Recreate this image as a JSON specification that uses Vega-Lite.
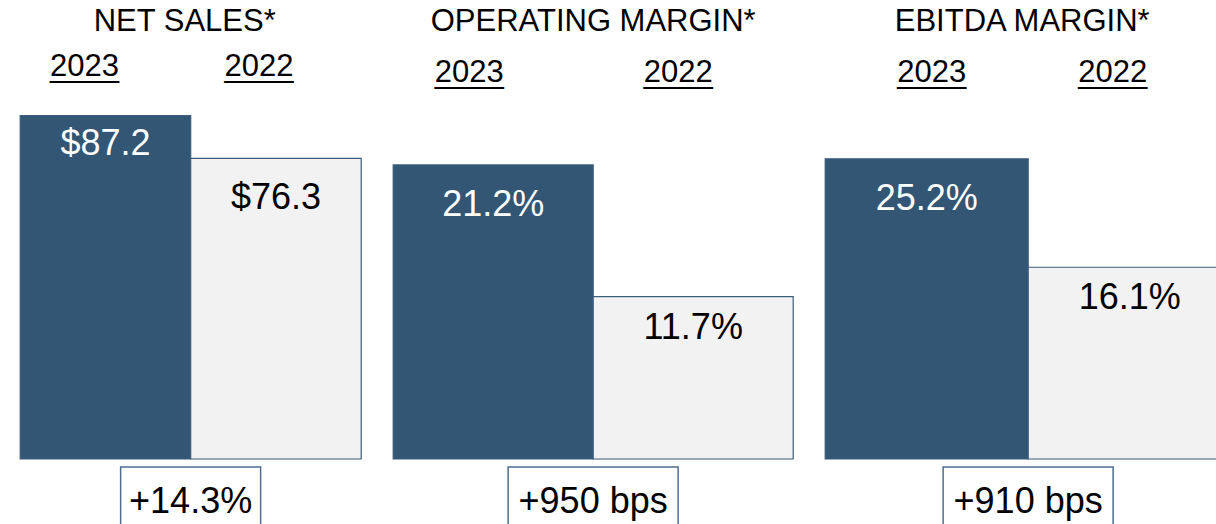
{
  "$schema": "https://vega.github.io/schema/vega-lite/v6.json",
  "padding": {"left": 19, "top": 6, "right": 0, "bottom": 0},
  "background": "white",
  "config": {
    "view": {"stroke": null},
    "font": "Liberation Sans",
    "title": {"fontSize": 31, "fontWeight": "normal", "color": "black", "font": "Liberation Sans"},
    "axis": {"labelFont": "Liberation Sans", "labelLineHeight": 1},
    "bar": {"stroke": "#3d5d7d", "strokeWidth": 1.2},
    "text": {"font": "Liberation Sans", "fontSize": 36, "baseline": "middle"}
  },
  "datasets": {
    "sales": [
      {"year": "2023", "value": 87.2, "label": "$87.2"},
      {"year": "2022", "value": 76.3, "label": "$76.3"}
    ],
    "op": [
      {"year": "2023", "value": 21.2, "label": "21.2%"},
      {"year": "2022", "value": 11.7, "label": "11.7%"}
    ],
    "ebitda": [
      {"year": "2023", "value": 25.2, "label": "25.2%"},
      {"year": "2022", "value": 16.1, "label": "16.1%"}
    ],
    "chg1": [{"change": "+14.3%"}],
    "chg2": [{"change": "+950 bps"}],
    "chg3": [{"change": "+910 bps"}]
  },
  "spacing": 30,
  "hconcat": [
    {
      "spacing": 6,
      "center": true,
      "vconcat": [
        {
          "title": {"text": "NET SALES*", "offset": 12, "dx": -6},
          "width": 341,
          "height": 364,
          "data": {"name": "sales"},
          "encoding": {
            "x": {"field": "year", "type": "nominal", "sort": ["2023", "2022"],
                  "scale": {"paddingInner": 0, "paddingOuter": 0},
                  "axis": {"orient": "top", "title": null, "domain": false, "ticks": false, "tickSize": 0,
                           "labelFontSize": 31, "labelColor": "black", "labelPadding": 13, "labelAngle": 0,
                           "labelOffset": {"condition": {"test": "datum.value == '2023'", "value": -21}, "value": -17},
                           "labelExpr": "[datum.label, '____']"}},
            "y": {"field": "value", "type": "quantitative", "scale": {"domain": [0, 92.4]}, "axis": null}
          },
          "layer": [
            {"mark": {"type": "bar"},
             "encoding": {"color": {"field": "year", "type": "nominal", "scale": {"domain": ["2023", "2022"], "range": ["#325674", "#f2f2f2"]}, "legend": null}}},
            {"transform": [{"filter": "datum.year == '2023'"}],
             "mark": {"type": "text", "dy": 29, "color": "white"},
             "encoding": {"text": {"field": "label"}}},
            {"transform": [{"filter": "datum.year == '2022'"}],
             "mark": {"type": "text", "dy": 40, "color": "black"},
             "encoding": {"text": {"field": "label"}}}
          ]
        },
        {
          "width": 140,
          "height": 70,
          "view": {"stroke": "#4d6e8e", "strokeWidth": 1.5},
          "data": {"name": "chg1"},
          "mark": {"type": "text", "color": "black"},
          "encoding": {"text": {"field": "change"}}
        }
      ]
    },
    {
      "spacing": 6,
      "center": true,
      "vconcat": [
        {
          "title": {"text": "OPERATING MARGIN*", "offset": 18},
          "width": 400,
          "height": 364,
          "data": {"name": "op"},
          "encoding": {
            "x": {"field": "year", "type": "nominal", "sort": ["2023", "2022"],
                  "scale": {"paddingInner": 0, "paddingOuter": 0},
                  "axis": {"orient": "top", "title": null, "domain": false, "ticks": false, "tickSize": 0,
                           "labelFontSize": 31, "labelColor": "black", "labelPadding": 7, "labelAngle": 0,
                           "labelOffset": {"condition": {"test": "datum.value == '2023'", "value": -24}, "value": -15},
                           "labelExpr": "[datum.label, '____']"}},
            "y": {"field": "value", "type": "quantitative", "scale": {"domain": [0, 26.24]}, "axis": null}
          },
          "layer": [
            {"mark": {"type": "bar"},
             "encoding": {"color": {"field": "year", "type": "nominal", "scale": {"domain": ["2023", "2022"], "range": ["#325674", "#f2f2f2"]}, "legend": null}}},
            {"transform": [{"filter": "datum.year == '2023'"}],
             "mark": {"type": "text", "dy": 40, "color": "white"},
             "encoding": {"text": {"field": "label"}}},
            {"transform": [{"filter": "datum.year == '2022'"}],
             "mark": {"type": "text", "dy": 31, "color": "black"},
             "encoding": {"text": {"field": "label"}}}
          ]
        },
        {
          "width": 170,
          "height": 70,
          "view": {"stroke": "#4d6e8e", "strokeWidth": 1.5},
          "data": {"name": "chg2"},
          "mark": {"type": "text", "color": "black"},
          "encoding": {"text": {"field": "change"}}
        }
      ]
    },
    {
      "spacing": 6,
      "center": true,
      "vconcat": [
        {
          "title": {"text": "EBITDA MARGIN*", "offset": 18, "dx": -6},
          "width": 406,
          "height": 364,
          "data": {"name": "ebitda"},
          "encoding": {
            "x": {"field": "year", "type": "nominal", "sort": ["2023", "2022"],
                  "scale": {"paddingInner": 0, "paddingOuter": 0},
                  "axis": {"orient": "top", "title": null, "domain": false, "ticks": false, "tickSize": 0,
                           "labelFontSize": 31, "labelColor": "black", "labelPadding": 7, "labelAngle": 0,
                           "labelOffset": {"condition": {"test": "datum.value == '2023'", "value": 5}, "value": -17},
                           "labelExpr": "[datum.label, '____']"}},
            "y": {"field": "value", "type": "quantitative", "scale": {"domain": [0, 30.56]}, "axis": null}
          },
          "layer": [
            {"mark": {"type": "bar"},
             "encoding": {"color": {"field": "year", "type": "nominal", "scale": {"domain": ["2023", "2022"], "range": ["#325674", "#f2f2f2"]}, "legend": null}}},
            {"transform": [{"filter": "datum.year == '2023'"}],
             "mark": {"type": "text", "dy": 40, "color": "white"},
             "encoding": {"text": {"field": "label"}}},
            {"transform": [{"filter": "datum.year == '2022'"}],
             "mark": {"type": "text", "dy": 31, "color": "black"},
             "encoding": {"text": {"field": "label"}}}
          ]
        },
        {
          "width": 170,
          "height": 70,
          "view": {"stroke": "#4d6e8e", "strokeWidth": 1.5},
          "data": {"name": "chg3"},
          "mark": {"type": "text", "color": "black"},
          "encoding": {"text": {"field": "change"}}
        }
      ]
    }
  ]
}
